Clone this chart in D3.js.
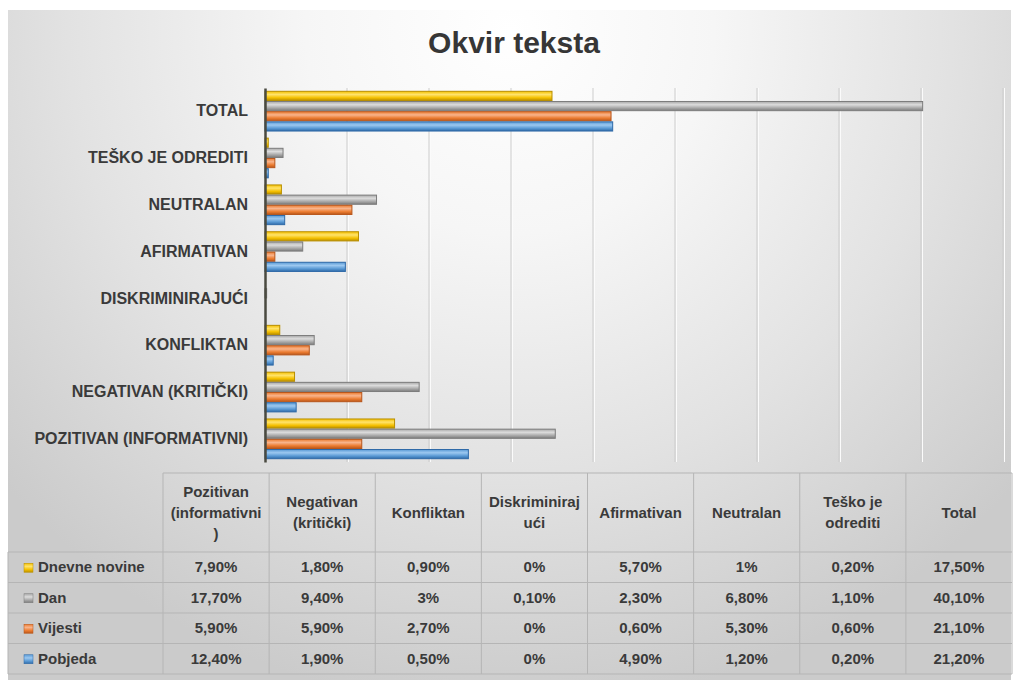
<!DOCTYPE html>
<html lang="hr">
<head>
  <meta charset="UTF-8">
  <title>Okvir teksta</title>
  <style type="text/css">
    body{
      margin: 0;
      background: #fff;
      font-family: "Liberation Sans", Arial, sans-serif;
    }
    .title{
      font-size: 30px;
      font-weight: bold;
      fill: #363636;
    }
    .cat text{
      font-size: 16px;
      font-weight: bold;
      fill: #3a3a3a;
    }
    .tbl text{
      font-size: 15px;
      font-weight: bold;
      fill: #3a3a3a;
    }
    .tbl line{
      stroke: #b5b5b5;
      stroke-width: 1px;
    }
  </style>
  <script type="text/javascript" src="https://d3js.org/d3.v7.min.js"></script>
</head>
<body>
<script type="text/javascript">
  // categories, bottom of the chart first
  var categories = ['Pozitivan (informativni)', 'Negativan (kritički)', 'Konfliktan',
    'Diskriminirajući', 'Afirmativan', 'Neutralan', 'Teško je odrediti', 'Total'];
  var axisLabels = ['POZITIVAN (INFORMATIVNI)', 'NEGATIVAN (KRITIČKI)', 'KONFLIKTAN',
    'DISKRIMINIRAJUĆI', 'AFIRMATIVAN', 'NEUTRALAN', 'TEŠKO JE ODREDITI', 'TOTAL'];
  var headerLines = [['Pozitivan', '(informativni', ')'], ['Negativan', '(kritički)'], ['Konfliktan'],
    ['Diskriminiraj', 'ući'], ['Afirmativan'], ['Neutralan'], ['Teško je', 'odrediti'], ['Total']];
  var seriesNames = ['Dnevne novine', 'Dan', 'Vijesti', 'Pobjeda'];

  var dnevneNovine = [7.9, 1.8, 0.9, 0, 5.7, 1, 0.2, 17.5];
  var dan          = [17.7, 9.4, 3, 0.1, 2.3, 6.8, 1.1, 40.1];
  var vijesti      = [5.9, 5.9, 2.7, 0, 0.6, 5.3, 0.6, 21.1];
  var pobjeda      = [12.4, 1.9, 0.5, 0, 4.9, 1.2, 0.2, 21.2];

  var xTicks = [0, 5, 10, 15, 20, 25, 30, 35, 40, 45];

  var seriesValues = [dnevneNovine, dan, vijesti, pobjeda];
  var colors = ['#f5c000', '#a8a8a8', '#ec7c30', '#5a9ad5'];
  var lights = ['#ffe36b', '#dcdcdc', '#f8b48c', '#9cc8f0'];
  var darks  = ['#b98f00', '#7c7c7c', '#b8561b', '#2f6aa8'];

  var W = 1015, H = 686;
  var frame = {left: 8, top: 10, right: 1011, bottom: 680};
  var plot = {left: 265, right: 1003, top: 88, bottom: 462};
  var table = {left: 163, right: 1012, top: 473, head: 552, rowH: 30.5};

  var svg = d3.select('body').append('svg')
    .attr('width', W)
    .attr('height', H);

  var defs = svg.append('defs');
  var bg = defs.append('radialGradient')
    .attr('id', 'bg')
    .attr('gradientUnits', 'userSpaceOnUse')
    .attr('cx', 510).attr('cy', 30).attr('r', 680);
  bg.append('stop').attr('offset', '0%').attr('stop-color', '#ffffff');
  bg.append('stop').attr('offset', '30%').attr('stop-color', '#f6f6f6');
  bg.append('stop').attr('offset', '65%').attr('stop-color', '#e2e2e2');
  bg.append('stop').attr('offset', '100%').attr('stop-color', '#cbcbcb');

  colors.forEach(function(c, i){
    var g = defs.append('linearGradient')
      .attr('id', 'bar' + i)
      .attr('x1', 0).attr('y1', 0).attr('x2', 0).attr('y2', 1);
    g.append('stop').attr('offset', '0%').attr('stop-color', c);
    g.append('stop').attr('offset', '35%').attr('stop-color', lights[i]);
    g.append('stop').attr('offset', '70%').attr('stop-color', c);
    g.append('stop').attr('offset', '100%').attr('stop-color', darks[i]);
  });

  svg.append('rect')
    .attr('x', frame.left).attr('y', frame.top)
    .attr('width', frame.right - frame.left)
    .attr('height', frame.bottom - frame.top)
    .attr('fill', 'url(#bg)');

  svg.append('text')
    .attr('class', 'title')
    .attr('x', 514)
    .attr('y', 53)
    .attr('text-anchor', 'middle')
    .text('Okvir teksta');

  var xScale = d3.scaleLinear()
    .domain([0, 45])
    .range([plot.left, plot.right]);

  var yScale = d3.scaleBand()
    .domain(categories)
    .range([plot.bottom, plot.top])
    .paddingInner(0.13)
    .paddingOuter(0.06);

  var ySub = d3.scaleBand()
    .domain(seriesNames)
    .range([0, yScale.bandwidth()]);

  // gridlines
  var grid = svg.append('g').attr('class', 'grid');
  grid.selectAll('line.g1')
    .data(xTicks.slice(1))
    .enter().append('line')
    .attr('x1', function(d){ return xScale(d); })
    .attr('x2', function(d){ return xScale(d); })
    .attr('y1', plot.top)
    .attr('y2', plot.bottom)
    .attr('stroke', '#cdcdcd');
  grid.selectAll('line.g2')
    .data(xTicks.slice(1))
    .enter().append('line')
    .attr('x1', function(d){ return xScale(d) + 1.5; })
    .attr('x2', function(d){ return xScale(d) + 1.5; })
    .attr('y1', plot.top)
    .attr('y2', plot.bottom)
    .attr('stroke', '#fbfbfb');

  // bars
  var groups = svg.selectAll('.cat-bars')
    .data(categories)
    .enter().append('g')
    .attr('class', 'cat-bars')
    .attr('transform', function(d){ return 'translate(0,' + yScale(d) + ')'; });

  groups.selectAll('rect')
    .data(function(d, ci){
      return seriesNames.map(function(s, si){ return {s: s, i: si, v: seriesValues[si][ci]}; });
    })
    .enter().append('rect')
    .attr('x', xScale(0))
    .attr('y', function(d){ return ySub(d.s) + 0.5; })
    .attr('height', ySub.bandwidth() - 1)
    .attr('width', function(d){ return xScale(d.v) - xScale(0); })
    .attr('fill', function(d){ return 'url(#bar' + d.i + ')'; })
    .attr('stroke', function(d){ return darks[d.i]; })
    .attr('stroke-width', 1);

  // y axis
  var yAxis = d3.axisLeft(yScale)
    .tickSize(0)
    .tickPadding(17)
    .tickFormat(function(d){ return axisLabels[categories.indexOf(d)]; });

  var ya = svg.append('g')
    .attr('class', 'cat')
    .attr('transform', 'translate(' + plot.left + ',0)')
    .call(yAxis);
  ya.selectAll('text').attr('font-family', null).attr('font-size', null);
  ya.attr('font-family', null).attr('font-size', null);
  ya.select('.domain')
    .attr('stroke', '#4a4a40')
    .attr('stroke-width', 2.5);

  // data table
  var fmt = function(v){
    if (Number.isInteger(v)) return v + '%';
    return v.toFixed(2).replace('.', ',') + '%';
  };
  var colX = d3.scaleBand()
    .domain(categories)
    .range([table.left, table.right]);
  var rowY = d3.scaleBand()
    .domain(seriesNames)
    .range([table.head, table.head + table.rowH * seriesNames.length]);

  var tbl = svg.append('g').attr('class', 'tbl');

  tbl.append('line')
    .attr('x1', table.left).attr('x2', table.right)
    .attr('y1', table.top).attr('y2', table.top);
  tbl.selectAll('line.v')
    .data(categories)
    .enter().append('line')
    .attr('x1', function(d){ return colX(d); })
    .attr('x2', function(d){ return colX(d); })
    .attr('y1', table.top)
    .attr('y2', rowY.range()[1]);
  tbl.append('line')
    .attr('x1', table.right).attr('x2', table.right)
    .attr('y1', table.top).attr('y2', rowY.range()[1]);
  tbl.selectAll('line.h')
    .data(seriesNames.concat(['end']))
    .enter().append('line')
    .attr('x1', frame.left)
    .attr('x2', table.right)
    .attr('y1', function(d, i){ return table.head + i * rowY.bandwidth(); })
    .attr('y2', function(d, i){ return table.head + i * rowY.bandwidth(); });
  tbl.append('line')
    .attr('x1', frame.left).attr('x2', frame.left)
    .attr('y1', table.head).attr('y2', rowY.range()[1]);

  // header texts
  var heads = tbl.selectAll('text.head')
    .data(categories)
    .enter().append('text')
    .attr('text-anchor', 'middle')
    .attr('x', function(d){ return colX(d) + colX.bandwidth() / 2; })
    .attr('y', function(d, i){
      var n = headerLines[i].length;
      return (table.top + table.head) / 2 - (n - 1) * 10.5 + 5;
    });
  heads.selectAll('tspan')
    .data(function(d, i){ return headerLines[i]; })
    .enter().append('tspan')
    .attr('x', function(){ return d3.select(this.parentNode).attr('x'); })
    .attr('dy', function(d, i){ return i === 0 ? 0 : 21; })
    .text(function(d){ return d; });

  // row labels + legend keys
  var rows = tbl.selectAll('g.row')
    .data(seriesNames)
    .enter().append('g')
    .attr('class', 'row')
    .attr('transform', function(d){ return 'translate(0,' + rowY(d) + ')'; });

  rows.append('rect')
    .attr('x', 24)
    .attr('y', rowY.bandwidth() / 2 - 4)
    .attr('width', 9)
    .attr('height', 9)
    .attr('fill', function(d, i){ return 'url(#bar' + i + ')'; })
    .attr('stroke', function(d, i){ return darks[i]; })
    .attr('stroke-width', 0.5);

  rows.append('text')
    .attr('x', 38)
    .attr('y', rowY.bandwidth() / 2 + 5)
    .text(function(d){ return d; });

  rows.selectAll('text.val')
    .data(function(d, si){
      return categories.map(function(c, ci){ return {c: c, v: seriesValues[si][ci]}; });
    })
    .enter().append('text')
    .attr('class', 'val')
    .attr('text-anchor', 'middle')
    .attr('x', function(d){ return colX(d.c) + colX.bandwidth() / 2; })
    .attr('y', rowY.bandwidth() / 2 + 5)
    .text(function(d){ return fmt(d.v); });
</script>
</body>
</html>
